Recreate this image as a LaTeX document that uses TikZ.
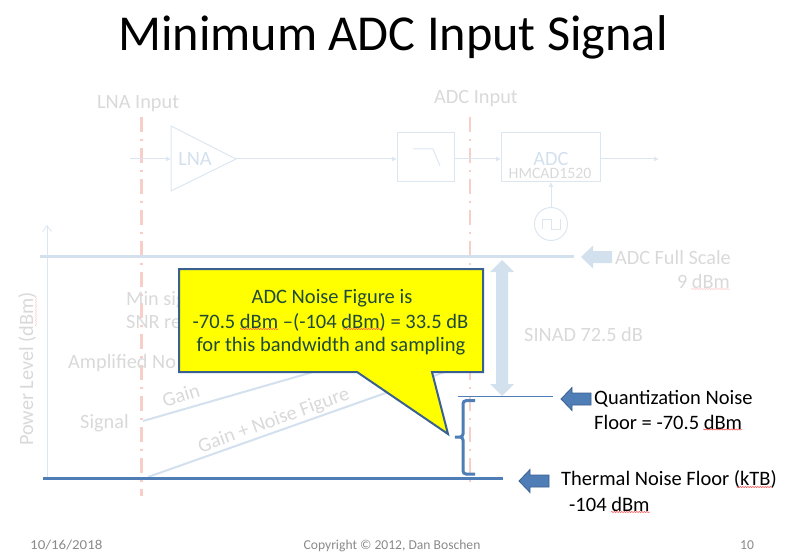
\documentclass[tikz,border=0pt]{standalone}
\usepackage{fontspec}
\setmainfont{Carlito}
\usepackage{tikz}
\usetikzlibrary{arrows.meta}
\usetikzlibrary{decorations.pathmorphing}

\definecolor{fadetext}{HTML}{D9D9D9}
\definecolor{fadeblue}{HTML}{D3E0EE}
\definecolor{fadeline}{HTML}{DCE6F1}
\definecolor{fadered}{HTML}{F7CFC8}
\definecolor{floorblue}{HTML}{4F7DB6}
\definecolor{edgeblue}{HTML}{3A6090}
\definecolor{foottext}{HTML}{8A8A8A}
\definecolor{callouttext}{HTML}{1F4A38}
\definecolor{calloutfill}{HTML}{FFFF00}

\tikzset{
  fadelabel/.style={text=fadetext,font=\fontsize{20.3}{20}\selectfont,inner sep=0pt},
  blacklabel/.style={text=black,font=\fontsize{20.5}{20}\selectfont,inner sep=0pt},
  calloutlabel/.style={text=callouttext,font=\fontsize{20.5}{20}\selectfont,inner sep=0pt},
  footlabel/.style={text=foottext,font=\fontsize{13.6}{14}\selectfont,inner sep=0pt,anchor=base},
  markerline/.style={fadered,line width=2.5pt,dash pattern=on 15pt off 7pt on 2pt off 7pt},
  fadewire/.style={fadeline,line width=1pt,-{Latex[length=5pt,width=5pt]}},
  fadebox/.style={draw=fadeline,line width=1pt},
  spellmark/.style={red!70!white,line width=0.5pt,decorate,decoration={snake,amplitude=0.6pt,segment length=2.5pt}},
  fadespell/.style={spellmark,red!20!white},
}

\begin{document}
\begin{tikzpicture}[x=1pt,y=-1pt]
\useasboundingbox (0,0) rectangle (800,556);

\draw (393,37) node[font=\fontsize{50.3}{50}\selectfont,inner sep=0pt] (title) {Minimum ADC Input Signal};

\draw (97,104) node[fadelabel,anchor=west] (lnalabel) {LNA Input};
\draw (434,99) node[fadelabel,anchor=west] (adclabel) {ADC Input};

% marker lines
\coordinate (lnatop) at (141.5,117);
\coordinate (lnabot) at (141.5,496);
\coordinate (adctop) at (470,117);
\coordinate (adcbot) at (470,487);
\draw [markerline] (lnatop) -- (lnabot);
\draw [markerline] (adctop) -- (adcbot);

% signal chain
\coordinate (rfin) at (130,159);
\draw [fadebox,line join=miter] (171,126) coordinate (lnaa) -- (236,159) coordinate (lnaout) -- (171,191) -- cycle;
\coordinate (lnain) at (171,159);
\draw (195,159) node[fadelabel,text=fadeblue] (lna) {LNA};
\draw [fadebox] (397,133) rectangle (454,182);
\coordinate (filtin) at (397,159);
\coordinate (filtout) at (454,159);
\draw [fadeline,line width=1pt] (413,149) -- (433,149) -- (440,166);
\draw [fadebox] (501,133) rectangle (600.5,182);
\coordinate (adcin) at (501,159);
\coordinate (adcout) at (600.5,159);
\coordinate (adcclk) at (551,182);
\coordinate (digout) at (659,159);
\draw (551,159) node[fadelabel,text=fadeblue] (adc) {ADC};
\draw (550,173) node[fadelabel,font=\fontsize{15.8}{16}\selectfont] (part) {HMCAD1520};
\draw [fadewire] (rfin) -- (lnain);
\draw [fadewire] (lnaout) -- (filtin);
\draw [fadewire] (filtout) -- (adcin);
\draw [fadewire] (adcout) -- (digout);
\draw [fadebox] (551,224) circle (16.5pt);
\coordinate (clktop) at (551,207.5);
\draw [fadewire] (clktop) -- (adcclk);
\draw [fadeline,line width=1pt] (542,229) -- (542,219) -- (551,219) -- (551,229) -- (560,229) -- (560,219);

% power axis
\coordinate (axisbot) at (47,478);
\coordinate (axistop) at (47,225);
\draw [fadeline,line width=0.8pt,-{Straight Barb[length=6pt,width=9pt]}] (axisbot) -- (axistop);
\draw (27,369) node[fadelabel,rotate=90] (powerlabel) {Power Level (dBm)};
\draw [fadespell] (36,326) -- (36,296);

% full scale
\coordinate (fsleft) at (40,256.7);
\coordinate (fsright) at (574,256.7);
\draw [fadeblue,line width=3pt] (fsleft) -- (fsright);
\draw [fill=fadeblue,draw=none] (581,257) -- (593,245.5) -- (593,251) -- (612,251) -- (612,263) -- (593,263) -- (593,268.5) -- cycle;
\draw (731,258) node[fadelabel,anchor=east] (fslabel) {ADC Full Scale};
\draw (730,282) node[fadelabel,anchor=east] (fsvalue) {9 dBm};
\draw [fadespell] (691,289) -- (730,289);

% sinad arrow
\draw [fill=fadeblue,draw=none] (502,260) -- (514,272) -- (508,272) -- (508,384) -- (514,384) -- (502,396) -- (490,384) -- (496,384) -- (496,272) -- (490,272) -- cycle;
\draw (524,335) node[fadelabel,anchor=west] (sinad) {SINAD 72.5 dB};

% faded labels partly behind the callout
\draw (126,300) node[fadelabel,anchor=west] (minsig) {Min sig};
\draw (126,322) node[fadelabel,anchor=west] (snrreq) {SNR re};
\draw (68,363) node[fadelabel,anchor=west] (ampnoise) {Amplified No};
\draw (80,423) node[fadelabel,anchor=west] (signal) {Signal};
\draw (181,395) node[fadelabel,rotate=17] (gain) {Gain};
\draw (274,421) node[fadelabel,rotate=20] (gainnf) {Gain + Noise Figure};
\coordinate (gaina) at (143,421);
\coordinate (gainb) at (320,370);
\coordinate (nfa) at (148,477);
\coordinate (nfb) at (445,372);
\draw [fadeblue,line width=2pt] (gaina) -- (gainb);
\draw [fadeblue,line width=2pt] (nfa) -- (nfb);

% floors
\coordinate (qleft) at (458,396);
\coordinate (qright) at (553,396);
\draw [floorblue,line width=0.8pt] (qleft) -- (qright);
\coordinate (tleft) at (43,478);
\coordinate (tright) at (503,478);
\draw [floorblue,line width=3pt] (tleft) -- (tright);

\draw [fill=floorblue,draw=edgeblue,line width=0.8pt] (561,399) -- (572,387.5) -- (572,393) -- (591,393) -- (591,405) -- (572,405) -- (572,410.5) -- cycle;
\draw (594,398.5) node[blacklabel,anchor=west] (qlabel) {Quantization Noise};
\draw (594,422.5) node[blacklabel,anchor=west] (qvalue) {Floor = -70.5 dBm};
\draw [spellmark] (703,429.5) -- (742,429.5);

\draw [fill=floorblue,draw=edgeblue,line width=0.8pt] (519,481) -- (530,469.5) -- (530,475) -- (549,475) -- (549,487) -- (530,487) -- (530,492.5) -- cycle;
\draw (561,479) node[blacklabel,anchor=west] (tlabel) {Thermal Noise Floor (kTB)};
\draw (569,504) node[blacklabel,anchor=west] (tvalue) {-104 dBm};
\draw [spellmark] (611,512) -- (650,512);
\draw [spellmark] (737,487) -- (772,487);

% brace
\draw [floorblue,line width=3pt,rounded corners=3pt] (475,400.7) -- (463,400.7) -- (463,437) -- (453,437) -- (463,437) -- (463,474) -- (475,474);

% callout
\draw [fill=calloutfill,draw=edgeblue,line width=2pt,line join=miter] (179,269) -- (483,269) -- (483,372) -- (432,372) -- (448,434) -- (357,372) -- (179,372) -- cycle;
\draw (332,298) node[calloutlabel] (nfline) {ADC Noise Figure is};
\draw (330.5,322) node[calloutlabel] (nfcalc) {-70.5 dBm –(-104 dBm) = 33.5 dB};
\draw (331,346) node[calloutlabel] (nfnote) {for this bandwidth and sampling};
\draw [spellmark] (240,329) -- (278,329);
\draw [spellmark] (343,329) -- (383,329);

% footer
\draw (30,549) node[footlabel,anchor=base west,xscale=1.1] (datelabel) {10/16/2018};
\draw (392,549) node[footlabel] (copyright) {Copyright © 2012, Dan Boschen};
\draw (747,549) node[footlabel] (pagenum) {10};
\end{tikzpicture}
\end{document}
